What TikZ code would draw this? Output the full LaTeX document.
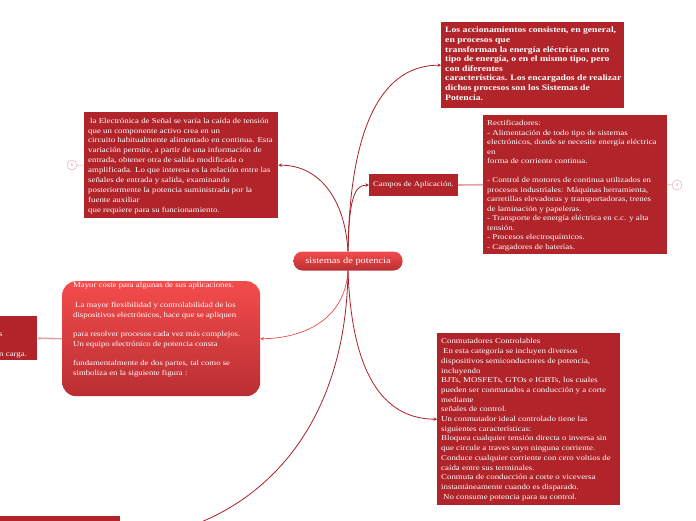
\documentclass[tikz,border=0pt]{standalone}
\usepackage{fontspec}
\setmainfont[FakeStretch=1.18]{Liberation Serif}
\usetikzlibrary{
	arrows.meta,
	positioning
}

\definecolor{boxred}{RGB}{176,36,42}
\definecolor{linkred}{RGB}{170,32,40}
\definecolor{softred}{RGB}{236,74,76}
\definecolor{lightlink}{RGB}{228,162,166}
\definecolor{toprose}{RGB}{244,76,76}
\definecolor{botrose}{RGB}{184,46,50}

\tikzset{
  topicbox/.style={fill=boxred, text=white, inner sep=4pt, anchor=north west,
    font=\fontsize{7.5}{9.7}\selectfont},
  rootbox/.style={rounded corners=9pt, top color=toprose, bottom color=botrose,
    text=white, minimum width=109pt, minimum height=19pt, inner sep=0pt,
    font=\fontsize{8.8}{10}\selectfont},
  notebox/.style={rounded corners=14pt, top color=toprose, bottom color=botrose,
    text=white, inner xsep=11pt, inner ysep=0pt, anchor=north west,
    font=\fontsize{7.4}{9.7}\selectfont},
  branch/.style={draw=linkred, line width=0.8pt, -{Stealth[length=3.5pt,width=3.5pt]}},
  sidelink/.style={draw=lightlink, line width=1.6pt},
  foldmark/.style={circle, draw=lightlink, fill=white, text=lightlink,
    minimum size=10pt, inner sep=0pt, font=\fontsize{5}{5}\selectfont},
}

% fixed size text block: width, height, lines (no rewrapping)
\newcommand{\blocktext}[3]{\parbox[t][#2][t]{#1}{\begin{tabular}[t]{@{}l@{}}#3\end{tabular}}}

\begin{document}
\begin{tikzpicture}[x=1pt, y=-1pt]
\useasboundingbox (0,0) rectangle (696,520);
\clip (0,0) rectangle (696,520);

% Central topic
\node[rootbox] (root) at (348,261) {sistemas de potencia};

% Upper right: definition
\node[topicbox, font=\fontsize{8.2}{9.6}\selectfont\bfseries] (accion) at (441,22)
  {\blocktext{175pt}{78pt}{Los accionamientos consisten, en general,\\
  en procesos que\\
  transforman la energía eléctrica en otro\\
  tipo de energía, o en el mismo tipo, pero\\
  con diferentes\\
  características. Los encargados de realizar\\
  dichos procesos son los Sistemas de\\
  Potencia.}};

% Campos de aplicacion and its child
\node[topicbox, anchor=center, minimum width=89pt, minimum height=22pt,
  font=\fontsize{7.3}{9.7}\selectfont] (campos) at (413.5,185)
  {Campos de Aplicación.};
\node[topicbox, font=\fontsize{7.5}{9.5}\selectfont] (rect) at (483,115)
  {\blocktext{176pt}{131pt}{Rectificadores:\\
  - Alimentación de todo tipo de sistemas\\
  electrónicos, donde se necesite energía eléctrica\\
  en\\
  forma de corriente continua.\\
  \\
  - Control de motores de continua utilizados en\\
  procesos industriales: Máquinas herramienta,\\
  carretillas elevadoras y transportadoras, trenes\\
  de laminación y papeleras.\\
  - Transporte de energía eléctrica en c.c. y alta\\
  tensión.\\
  - Procesos electroquímicos.\\
  - Cargadores de baterías.}};

% Upper left: electronica de senal
\node[topicbox, font=\fontsize{7.5}{9.9}\selectfont] (elec) at (84,112)
  {\blocktext{186pt}{98pt}{\hspace{2pt}la Electrónica de Señal se varía la caída de tensión\\
  que un componente activo crea en un\\
  circuito habitualmente alimentado en continua. Esta\\
  variación permite, a partir de una información de\\
  entrada, obtener otra de salida modificada o\\
  amplificada. Lo que interesa es la relación entre las\\
  señales de entrada y salida, examinando\\
  posteriormente la potencia suministrada por la\\
  fuente auxiliar\\
  que requiere para su funcionamiento.}};

% Left: rounded note and partly hidden child
\node[notebox] (mayor) at (62,281)
  {\blocktext{176pt}{115pt}{Mayor coste para algunas de sus aplicaciones.\\
  \\
  \hspace{2pt}La mayor flexibilidad y controlabilidad de los\\
  dispositivos electrónicos, hace que se apliquen\\
  \\
  para resolver procesos cada vez más complejos.\\
  Un equipo electrónico de potencia consta\\
  \\
  fundamentalmente de dos partes, tal como se\\
  simboliza en la siguiente figura :}};
\node[topicbox] (carga) at (-5,316)
  {\blocktext{34pt}{36pt}{\\ s\\ \\ n carga.}};

% Lower right: conmutadores
\node[topicbox] (conm) at (437,333)
  {\blocktext{175pt}{164pt}{Conmutadores Controlables\\
  \hspace{2pt}En esta categoría se incluyen diversos\\
  dispositivos semiconductores de potencia,\\
  incluyendo\\
  BJTs, MOSFETs, GTOs e IGBTs, los cuales\\
  pueden ser conmutados a conducción y a corte\\
  mediante\\
  señales de control.\\
  Un conmutador ideal controlado tiene las\\
  siguientes características:\\
  Bloquea cualquier tensión directa o inversa sin\\
  que circule a traves suyo ninguna corriente.\\
  Conduce cualquier corriente con cero voltios de\\
  caída entre sus terminales.\\
  Conmuta de conducción a corte o viceversa\\
  instantáneamente cuando es disparado.\\
  \hspace{2pt}No consume potencia para su control.}};

% Lower left: box cut by the frame
\node[topicbox, inner sep=0pt, minimum width=125pt, minimum height=30pt] (bottom) at (-5,516) {};
\coordinate (bottomend) at (185,528);

% Fold marks
\node[foldmark] (foldelec) at (72,165) {6};
\node[foldmark] (foldrect) at (677,185) {4};

% Connectors from the central topic
\draw[branch] (root.north) .. controls (350,120) and (385,65) .. (accion.west);
\draw[branch] (root.north) .. controls (349,200) and (354,185) .. (campos.west);
\draw[branch] (root.north) .. controls (345,200) and (320,165) .. (elec.east);
\draw[branch, draw=softred, line width=0.7pt] (root.south) .. controls (345,322) and (300,338.5) .. (mayor.east);
\draw[branch] (root.south) .. controls (352,385) and (390,419) .. (conm.west);
\draw[draw=linkred, line width=0.8pt] (root.south) .. controls (346,420) and (270,500) .. (bottomend);

% Side links
\draw[sidelink] (campos.east) -- (rect.west);
\draw[sidelink, -{Stealth[length=3pt,width=3pt]}] (mayor.west) -- (carga.east);
\draw[lightlink, line width=0.6pt] (foldelec) -- (elec.west);
\draw[lightlink, line width=0.6pt] (rect.east) -- (foldrect);

\end{tikzpicture}
\end{document}
